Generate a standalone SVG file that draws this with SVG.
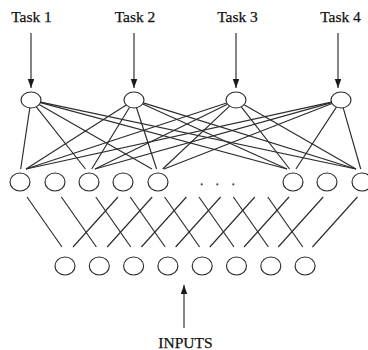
<svg xmlns="http://www.w3.org/2000/svg" width="368" height="350" viewBox="0 0 368 350">
<style>
.n{fill:#fff;stroke:#2b2b2b;stroke-width:1.15}
.c line{stroke:#2b2b2b;stroke-width:1.15}
.t{font-family:"Liberation Serif","Times New Roman",serif;font-size:15.5px;fill:#111;stroke:#111;stroke-width:0.25;text-anchor:middle}
.d{fill:#444}
</style>
<defs>
<marker id="ah" markerUnits="userSpaceOnUse" markerWidth="9" markerHeight="8" refX="9" refY="3.25" orient="auto">
<path d="M0,0 L9,3.25 L0,6.5 Z" fill="#1a1a1a"/>
</marker>
</defs>
<rect width="368" height="350" fill="#fff"/>
<g id="labels">
<text class="t" x="31.5" y="22">Task 1</text>
<text class="t" x="135" y="22">Task 2</text>
<text class="t" x="237.5" y="22">Task 3</text>
<text class="t" x="340.5" y="22">Task 4</text>
<text class="t" x="185.5" y="348">INPUTS</text>
</g>
<g class="c" id="connectors">
<line x1="31" y1="33" x2="31" y2="88" marker-end="url(#ah)"/>
<line x1="134" y1="33" x2="134" y2="88" marker-end="url(#ah)"/>
<line x1="236" y1="33" x2="236" y2="88" marker-end="url(#ah)"/>
<line x1="338" y1="33" x2="338" y2="88" marker-end="url(#ah)"/>
<line x1="184" y1="328" x2="184" y2="285" marker-end="url(#ah)"/>
<line x1="29.8" y1="107.9" x2="20.7" y2="169"/>
<line x1="36.3" y1="106.8" x2="85.5" y2="169"/>
<line x1="39.1" y1="104.6" x2="152" y2="169"/>
<line x1="40.5" y1="102.6" x2="287" y2="169"/>
<line x1="40.7" y1="102.1" x2="356" y2="169"/>
<line x1="126.2" y1="105" x2="26" y2="169"/>
<line x1="129.6" y1="107.2" x2="91.7" y2="169"/>
<line x1="136.5" y1="107.7" x2="156.6" y2="169"/>
<line x1="142.7" y1="103.9" x2="287" y2="169"/>
<line x1="143.3" y1="102.9" x2="356" y2="169"/>
<line x1="226.7" y1="103" x2="26" y2="169"/>
<line x1="227.5" y1="104.2" x2="95" y2="169"/>
<line x1="229.5" y1="106.1" x2="162.7" y2="169"/>
<line x1="241.3" y1="106.8" x2="289.6" y2="169"/>
<line x1="244.1" y1="104.7" x2="356" y2="169"/>
<line x1="331.4" y1="102.1" x2="26" y2="169"/>
<line x1="331.6" y1="102.6" x2="95" y2="169"/>
<line x1="332" y1="103.5" x2="164" y2="169"/>
<line x1="336.4" y1="107.1" x2="295.9" y2="169"/>
<line x1="343.2" y1="107.8" x2="360.7" y2="169"/>
<line x1="27" y1="197" x2="62" y2="247"/>
<line x1="61.4" y1="197" x2="96.4" y2="247"/>
<line x1="95.8" y1="197" x2="130.8" y2="247"/>
<line x1="130.2" y1="197" x2="165.2" y2="247"/>
<line x1="164.6" y1="197" x2="199.6" y2="247"/>
<line x1="199" y1="197" x2="234" y2="247"/>
<line x1="233.4" y1="197" x2="268.4" y2="247"/>
<line x1="267.8" y1="197" x2="302.8" y2="247"/>
<line x1="118" y1="197" x2="73" y2="247"/>
<line x1="152.2" y1="197" x2="107.2" y2="247"/>
<line x1="186.4" y1="197" x2="141.4" y2="247"/>
<line x1="220.6" y1="197" x2="175.6" y2="247"/>
<line x1="254.8" y1="197" x2="209.8" y2="247"/>
<line x1="289" y1="197" x2="244" y2="247"/>
<line x1="323.2" y1="197" x2="278.2" y2="247"/>
<line x1="357.4" y1="197" x2="312.4" y2="247"/>
</g>
<g id="task-nodes">
<ellipse id="t1" class="n" cx="31" cy="100" rx="10" ry="8"/>
<ellipse id="t2" class="n" cx="134" cy="100" rx="10" ry="8"/>
<ellipse id="t3" class="n" cx="236" cy="100" rx="10" ry="8"/>
<ellipse id="t4" class="n" cx="341" cy="100" rx="10" ry="8"/>
</g>
<g id="hidden-nodes">
<ellipse id="h1" class="n" cx="20" cy="182" rx="10" ry="9"/>
<ellipse id="h2" class="n" cx="55" cy="182" rx="10" ry="9"/>
<ellipse id="h3" class="n" cx="89" cy="182" rx="10" ry="9"/>
<ellipse id="h4" class="n" cx="123" cy="182" rx="10" ry="9"/>
<ellipse id="h5" class="n" cx="158" cy="182" rx="10" ry="9"/>
<circle class="d" cx="201.7" cy="184.3" r="1.1"/>
<circle class="d" cx="217.3" cy="184.3" r="1.1"/>
<circle class="d" cx="233.3" cy="184.3" r="1.1"/>
<ellipse id="h6" class="n" cx="293" cy="182" rx="10" ry="9"/>
<ellipse id="h7" class="n" cx="327" cy="182" rx="10" ry="9"/>
<ellipse id="h8" class="n" cx="362" cy="182" rx="10" ry="9"/>
</g>
<g id="input-nodes">
<ellipse id="i1" class="n" cx="65" cy="266" rx="10" ry="9"/>
<ellipse id="i2" class="n" cx="99.3" cy="266" rx="10" ry="9"/>
<ellipse id="i3" class="n" cx="133.6" cy="266" rx="10" ry="9"/>
<ellipse id="i4" class="n" cx="167.9" cy="266" rx="10" ry="9"/>
<ellipse id="i5" class="n" cx="202.2" cy="266" rx="10" ry="9"/>
<ellipse id="i6" class="n" cx="236.5" cy="266" rx="10" ry="9"/>
<ellipse id="i7" class="n" cx="270.8" cy="266" rx="10" ry="9"/>
<ellipse id="i8" class="n" cx="305.1" cy="266" rx="10" ry="9"/>
</g>
</svg>
